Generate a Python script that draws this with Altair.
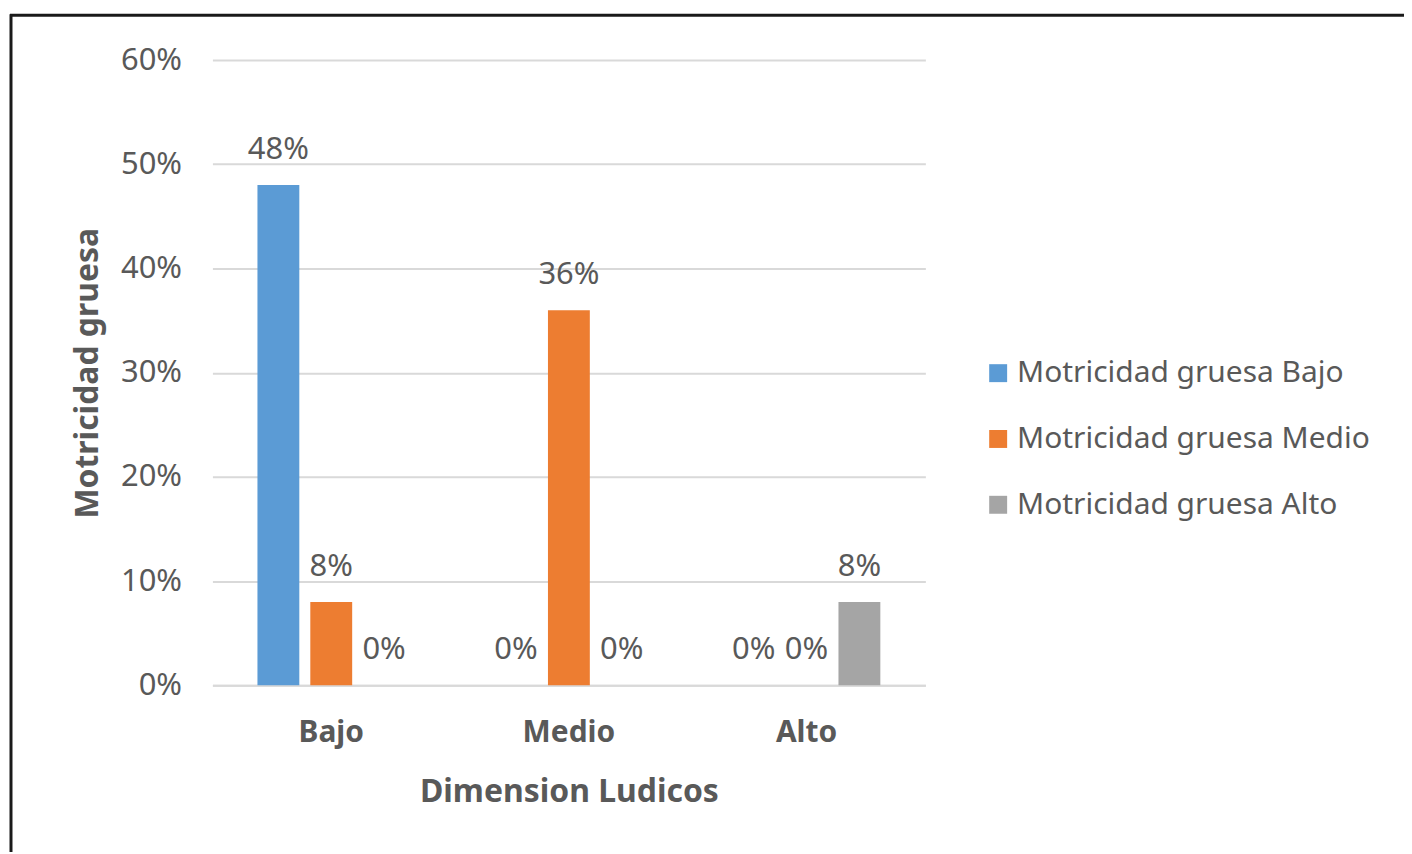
import altair as alt
import pandas as pd

categories = ["Bajo", "Medio", "Alto"]
series = ["Motricidad gruesa Bajo", "Motricidad gruesa Medio", "Motricidad gruesa Alto"]
# values per category, in series order (Bajo, Medio, Alto)
values = {
    "Bajo": [0.48, 0.08, 0.00],
    "Medio": [0.00, 0.36, 0.00],
    "Alto": [0.00, 0.00, 0.08],
}
colors = ["#5B9BD5", "#ED7D31", "#A5A5A5"]

rows = []
for c in categories:
    for s, v in zip(series, values[c]):
        rows.append({"cat": c, "serie": s, "val": v, "label": f"{round(v*100)}%"})
df = pd.DataFrame(rows)

FONT = "Noto Sans"
TXT = "#595959"

x = alt.X("cat:N", sort=categories, title="Dimension Ludicos",
          scale=alt.Scale(paddingInner=0, paddingOuter=0),
          axis=alt.Axis(labelAngle=0, labelFont=FONT, labelFontSize=30, labelFontWeight="bold",
                        labelColor=TXT, labelPadding=32, ticks=False, domain=True, grid=False,
                        domainColor="#D9D9D9", domainWidth=2,
                        titleFont=FONT, titleFontSize=32, titleFontWeight="bold",
                        titleColor=TXT, titlePadding=30))
xo = alt.XOffset("serie:N", sort=series,
                 scale=alt.Scale(paddingInner=0.208, paddingOuter=0.852))
y = alt.Y("val:Q", title="Motricidad gruesa",
          scale=alt.Scale(domain=[0, 0.6], nice=False),
          axis=alt.Axis(format=".0%", values=[0, 0.1, 0.2, 0.3, 0.4, 0.5, 0.6],
                        labelFont=FONT, labelFontSize=31, labelColor=TXT, labelPadding=31,
                        ticks=False, domain=False, gridColor="#D9D9D9", gridWidth=2,
                        titleFont=FONT, titleFontSize=32, titleFontWeight="bold",
                        titleColor=TXT, titlePadding=16))

color = alt.Color("serie:N", sort=series, title=None,
                  scale=alt.Scale(domain=series, range=colors),
                  legend=alt.Legend(orient="none", legendX=773, legendY=299,
                                    symbolType="square", symbolSize=324, symbolStrokeWidth=0,
                                    labelFont=FONT, labelFontSize=30, labelColor=TXT,
                                    labelOffset=4, rowPadding=36, labelLimit=600))

bars = alt.Chart(df).mark_bar().encode(x=x, xOffset=xo, y=y, color=color)
labels = alt.Chart(df).mark_text(font=FONT, fontSize=31, color=TXT, baseline="alphabetic",
                                 dy=-26).encode(x=x, xOffset=xo, y=y, text="label:N")

frame_df = pd.DataFrame({"k": [0]})
top_line = alt.Chart(frame_df).mark_rule(color="#1a1a1a", strokeWidth=3).encode(
    x=alt.value(-203), x2=alt.value(1220), y=alt.value(-45))
left_line = alt.Chart(frame_df).mark_rule(color="#1a1a1a", strokeWidth=3).encode(
    x=alt.value(-202), y=alt.value(-46), y2=alt.value(820))

chart = alt.layer(bars, labels, top_line, left_line).properties(
    width=715, height=627,
    padding={"left": 205, "top": 51, "right": 480, "bottom": 166},
    autosize=alt.AutoSizeParams(type="none"),
    view=alt.ViewBackground(stroke="transparent", strokeWidth=0),
).configure_view(strokeWidth=0, stroke="transparent").configure(background="white")

chart.save("out.html", embed_options={"renderer": "svg", "actions": False})
